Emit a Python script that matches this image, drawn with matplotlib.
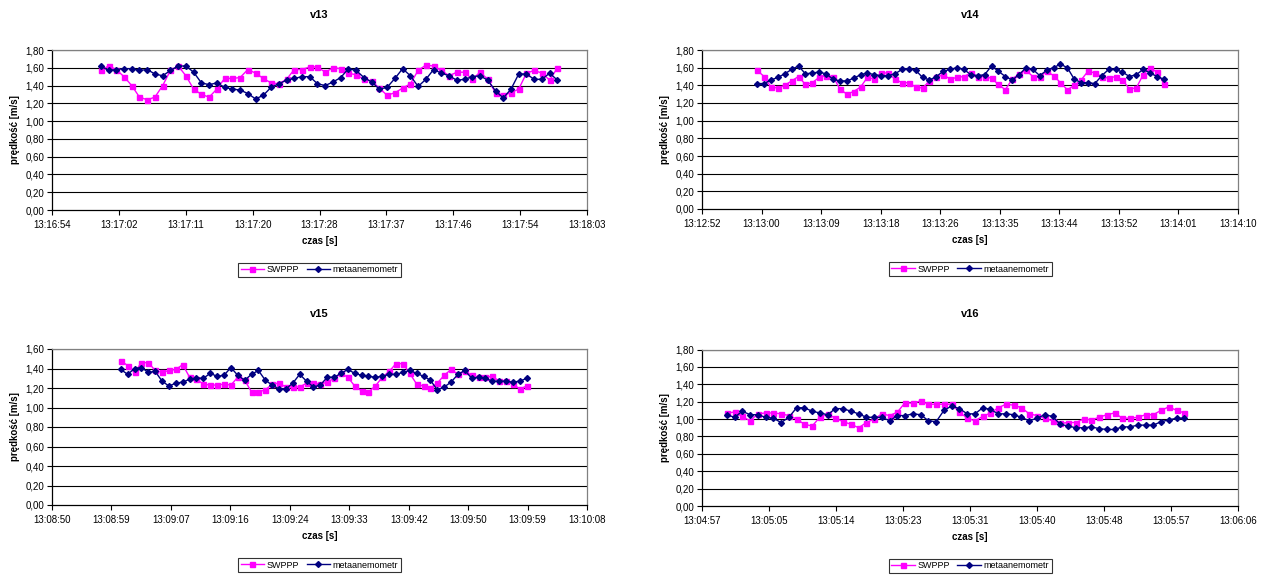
import numpy as np
import matplotlib
matplotlib.use("Agg")
import matplotlib.pyplot as plt

plt.rcParams['font.family'] = ['Liberation Sans', 'DejaVu Sans']

W, H = 1265, 581

# ---------------- data ----------------
titles = ["v13", "v14", "v15", "v16"]

xlabels_v13 = ["13:16:54", "13:17:02", "13:17:11", "13:17:20", "13:17:28",
               "13:17:37", "13:17:46", "13:17:54", "13:18:03"]
xlabels_v14 = ["13:12:52", "13:13:00", "13:13:09", "13:13:18", "13:13:26",
               "13:13:35", "13:13:44", "13:13:52", "13:14:01", "13:14:10"]
xlabels_v15 = ["13:08:50", "13:08:59", "13:09:07", "13:09:16", "13:09:24",
               "13:09:33", "13:09:42", "13:09:50", "13:09:59", "13:10:08"]
xlabels_v16 = ["13:04:57", "13:05:05", "13:05:14", "13:05:23", "13:05:31",
               "13:05:40", "13:05:48", "13:05:57", "13:06:06"]

# first sample time, seconds after the first axis label
start_v13, start_v14, start_v15, start_v16 = 6.3, 8.0, 10.0, 3.2
sample_step = 1.0     # one sample per second
tick_step = 8.64      # Excel major unit (0.0001 day)

ymax_v13, ymax_v14, ymax_v15, ymax_v16 = 1.8, 1.8, 1.6, 1.8

swppp_v13 = [1.57, 1.62, 1.58, 1.50, 1.40, 1.27, 1.24, 1.27, 1.40, 1.57,
             1.62, 1.51, 1.36, 1.30, 1.27, 1.36, 1.48, 1.48, 1.49, 1.58,
             1.54, 1.48, 1.43, 1.42, 1.47, 1.58, 1.58, 1.61, 1.61, 1.55,
             1.60, 1.59, 1.54, 1.52, 1.47, 1.45, 1.37, 1.29, 1.32, 1.37,
             1.42, 1.57, 1.63, 1.62, 1.57, 1.51, 1.55, 1.55, 1.47, 1.55,
             1.47, 1.32, 1.29, 1.32, 1.36, 1.54, 1.57, 1.54, 1.46, 1.60]
meta_v13 = [1.62, 1.57, 1.58, 1.59, 1.59, 1.57, 1.58, 1.53, 1.51, 1.57,
            1.62, 1.62, 1.55, 1.43, 1.41, 1.43, 1.38, 1.36, 1.35, 1.31,
            1.25, 1.29, 1.38, 1.42, 1.46, 1.48, 1.50, 1.50, 1.42, 1.40,
            1.44, 1.49, 1.59, 1.57, 1.49, 1.44, 1.36, 1.38, 1.48, 1.59,
            1.51, 1.39, 1.47, 1.58, 1.54, 1.51, 1.46, 1.47, 1.50, 1.51,
            1.46, 1.34, 1.26, 1.36, 1.53, 1.53, 1.47, 1.47, 1.54, 1.46]

swppp_v14 = [1.57, 1.50, 1.38, 1.37, 1.40, 1.45, 1.50, 1.41, 1.43, 1.49,
             1.51, 1.50, 1.36, 1.30, 1.33, 1.38, 1.49, 1.47, 1.54, 1.54,
             1.47, 1.43, 1.43, 1.38, 1.37, 1.45, 1.49, 1.52, 1.47, 1.49,
             1.50, 1.54, 1.50, 1.50, 1.48, 1.41, 1.35, 1.47, 1.53, 1.57,
             1.50, 1.49, 1.56, 1.51, 1.43, 1.35, 1.40, 1.46, 1.56, 1.54,
             1.50, 1.48, 1.50, 1.46, 1.36, 1.37, 1.52, 1.60, 1.55, 1.42]
meta_v14 = [1.42, 1.42, 1.46, 1.49, 1.53, 1.58, 1.62, 1.53, 1.54, 1.55,
            1.53, 1.47, 1.45, 1.45, 1.48, 1.52, 1.54, 1.52, 1.51, 1.51,
            1.53, 1.58, 1.59, 1.57, 1.49, 1.46, 1.50, 1.56, 1.58, 1.60,
            1.58, 1.52, 1.51, 1.52, 1.62, 1.56, 1.50, 1.46, 1.52, 1.60,
            1.58, 1.51, 1.57, 1.60, 1.64, 1.60, 1.47, 1.43, 1.43, 1.42,
            1.51, 1.58, 1.58, 1.55, 1.50, 1.52, 1.58, 1.54, 1.50, 1.47]

swppp_v15 = [1.48, 1.43, 1.36, 1.46, 1.46, 1.38, 1.36, 1.38, 1.39, 1.44,
             1.31, 1.29, 1.24, 1.23, 1.23, 1.24, 1.23, 1.31, 1.28, 1.16,
             1.16, 1.18, 1.24, 1.25, 1.21, 1.21, 1.21, 1.25, 1.25, 1.24,
             1.26, 1.30, 1.35, 1.31, 1.22, 1.17, 1.16, 1.22, 1.31, 1.37,
             1.45, 1.45, 1.35, 1.24, 1.22, 1.20, 1.25, 1.33, 1.39, 1.34,
             1.37, 1.33, 1.31, 1.31, 1.32, 1.27, 1.27, 1.24, 1.19, 1.22]
meta_v15 = [1.39, 1.34, 1.40, 1.41, 1.36, 1.37, 1.27, 1.22, 1.25, 1.26,
            1.29, 1.30, 1.30, 1.35, 1.32, 1.33, 1.41, 1.33, 1.28, 1.34,
            1.38, 1.28, 1.23, 1.19, 1.19, 1.25, 1.34, 1.27, 1.21, 1.23,
            1.31, 1.31, 1.35, 1.39, 1.35, 1.33, 1.32, 1.31, 1.32, 1.34,
            1.34, 1.36, 1.38, 1.35, 1.32, 1.28, 1.18, 1.21, 1.26, 1.34,
            1.38, 1.30, 1.31, 1.30, 1.27, 1.27, 1.27, 1.26, 1.27, 1.30]

swppp_v16 = [1.07, 1.08, 1.03, 0.98, 1.06, 1.07, 1.07, 1.06, 1.04, 1.00,
             0.94, 0.92, 1.02, 1.06, 1.01, 0.97, 0.94, 0.90, 0.96, 1.00,
             1.06, 1.04, 1.08, 1.19, 1.18, 1.21, 1.17, 1.17, 1.17, 1.17,
             1.08, 1.01, 0.98, 1.03, 1.07, 1.13, 1.17, 1.16, 1.13, 1.06,
             1.04, 1.01, 0.98, 0.95, 0.96, 0.96, 1.00, 0.99, 1.02, 1.05,
             1.07, 1.01, 1.01, 1.02, 1.05, 1.05, 1.10, 1.14, 1.10, 1.07]
meta_v16 = [1.05, 1.02, 1.09, 1.05, 1.05, 1.02, 1.01, 0.96, 1.02, 1.13,
            1.13, 1.09, 1.07, 1.05, 1.12, 1.12, 1.09, 1.06, 1.02, 1.02,
            1.02, 0.98, 1.04, 1.04, 1.06, 1.05, 0.98, 0.97, 1.10, 1.15,
            1.12, 1.06, 1.06, 1.13, 1.11, 1.06, 1.06, 1.05, 1.02, 0.98,
            1.01, 1.05, 1.03, 0.94, 0.92, 0.90, 0.90, 0.91, 0.89, 0.88,
            0.88, 0.91, 0.91, 0.93, 0.93, 0.93, 0.97, 0.99, 1.01, 1.01]

series_names = ["SWPPP", "metaanemometr"]
ylabel_text = "prędkość [m/s]"
xlabel_text = "czas [s]"

# ---------------- layout (pixels) ----------------
panels = [
    dict(rect=(52, 50, 587, 210), title=titles[0], xl=xlabels_v13, start=start_v13,
         s=swppp_v13, m=meta_v13, ymax=ymax_v13),
    dict(rect=(702, 50, 1238, 209), title=titles[1], xl=xlabels_v14, start=start_v14,
         s=swppp_v14, m=meta_v14, ymax=ymax_v14),
    dict(rect=(52, 349, 587, 505), title=titles[2], xl=xlabels_v15, start=start_v15,
         s=swppp_v15, m=meta_v15, ymax=ymax_v15),
    dict(rect=(702, 349.5, 1238, 506), title=titles[3], xl=xlabels_v16, start=start_v16,
         s=swppp_v16, m=meta_v16, ymax=ymax_v16),
]

MAG = '#FF00FF'
NAVY = '#000080'

fig = plt.figure(figsize=(W / 100, H / 100), dpi=100)

for p in panels:
    x0, y0, x1, y1 = p['rect']
    ax = fig.add_axes([x0 / W, 1 - y1 / H, (x1 - x0) / W, (y1 - y0) / H])
    n = len(p['s'])
    t = p['start'] + sample_step * np.arange(n)
    ax.plot(t, p['s'], color=MAG, lw=1.0, marker='s', ms=3.6, mec=MAG, mfc=MAG,
            label=series_names[0], zorder=3)
    ax.plot(t, p['m'], color=NAVY, lw=1.0, marker='D', ms=3.0, mec=NAVY, mfc=NAVY,
            label=series_names[1], zorder=4)

    nt = len(p['xl'])
    ax.set_xlim(0, tick_step * (nt - 1))
    ax.set_xticks(tick_step * np.arange(nt))
    ax.set_xticklabels(p['xl'])
    yt = np.arange(0, p['ymax'] + 0.001, 0.2)
    ax.set_ylim(0, p['ymax'])
    ax.set_yticks(yt)
    ax.set_yticklabels([f"{v:.2f}".replace('.', ',') for v in yt])
    ax.tick_params(axis='both', labelsize=7, direction='out', length=3.5,
                   width=0.8, colors='black', pad=2)
    ax.tick_params(axis='x', pad=4)
    for yv in yt[1:]:
        ax.axhline(yv, color='black', lw=0.8, zorder=1)
    ax.spines['left'].set_color('black')
    ax.spines['bottom'].set_color('black')
    ax.spines['top'].set_color('#808080')
    ax.spines['right'].set_color('#808080')
    for sp in ax.spines.values():
        sp.set_linewidth(0.9)

    cx = (x0 + x1) / 2 / W
    fig.text(cx, 1 - 15 / H if y0 < 100 else 1 - 314 / H, p['title'],
             ha='center', va='center', fontsize=8, fontweight='bold')
    fig.text(cx, 1 - (y1 + 31) / H, xlabel_text, ha='center', va='center',
             fontsize=7, fontweight='bold')
    fig.text((x0 - 37) / W, 1 - ((y0 + y1) / 2) / H, ylabel_text, ha='center',
             va='center', rotation=90, fontsize=7, fontweight='bold')

    leg = fig.legend(handles=ax.get_lines(), labels=series_names, ncol=2,
                     loc='center', bbox_to_anchor=(cx, 1 - (y1 + 60) / H),
                     fontsize=6.5, frameon=True, fancybox=False, shadow=False,
                     handlelength=2.6, handletextpad=0.3, columnspacing=0.8,
                     borderpad=0.3, edgecolor='black')
    leg.get_frame().set_linewidth(0.8)

fig.savefig("out.png", dpi=100)
